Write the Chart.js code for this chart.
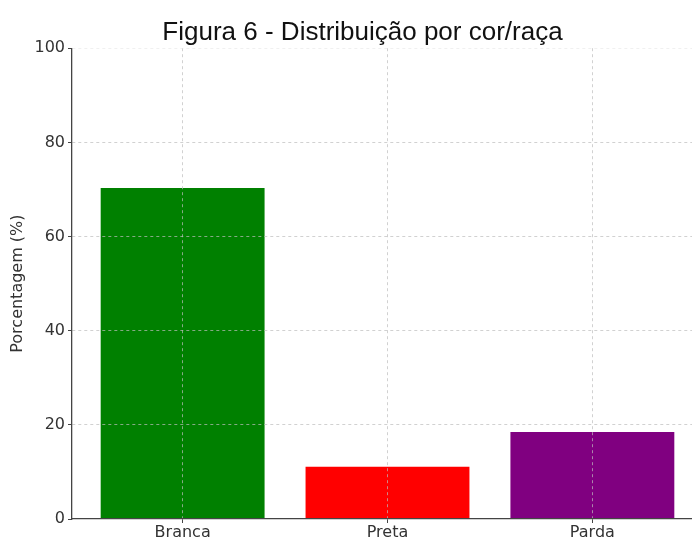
<!DOCTYPE html>
<html lang="pt">
<head>
    <meta charset="UTF-8">
    <title>Figura 6 - Distribuição por cor/raça</title>
    <script src="https://cdn.jsdelivr.net/npm/chart.js"></script>
    <style>
        body {
            margin: 0;
            padding: 0;
            background: #fff;
        }
        .frame {
            width: 692px;
            height: 537px;
            overflow: hidden;
            position: relative;
        }
        .chart-box {
            width: 725px;
            height: 560px;
            position: absolute;
            left: 0;
            top: 0;
        }
    </style>
</head>
<body>
    <div class="frame">
        <div class="chart-box">
            <canvas id="racaChart"></canvas>
        </div>
    </div>

    <script>
        var categorias = ['Branca', 'Preta', 'Parda'];
        var porcentagens = [70.3, 11.1, 18.5];
        var cores = ['#008000', '#ff0000', '#800080'];
        var yTicks = [0, 20, 40, 60, 80, 100];

        var gridColor = 'rgba(190, 190, 190, 0.7)';
        var axisColor = '#444';
        var tickFont = { family: 'DejaVu Sans', size: 16 };

        var pontos = porcentagens.map(function (v, i) {
            return { x: i, y: v };
        });

        var racaChart = new Chart(document.getElementById('racaChart').getContext('2d'), {
            type: 'bar',
            data: {
                datasets: [{
                    label: 'Porcentagem',
                    data: pontos,
                    backgroundColor: cores,
                    borderWidth: 0,
                    barPercentage: 1.0,
                    categoryPercentage: 0.8
                }]
            },
            options: {
                responsive: true,
                maintainAspectRatio: false,
                animation: false,
                layout: { padding: 0 },
                plugins: {
                    legend: { display: false },
                    tooltip: { enabled: false },
                    title: {
                        display: true,
                        text: 'Figura 6 - Distribuição por cor/raça',
                        color: '#111',
                        font: { family: 'Liberation Sans', size: 26, weight: 'normal' },
                        padding: { top: 17, bottom: 0 }
                    }
                },
                scales: {
                    x: {
                        type: 'linear',
                        min: -0.54,
                        max: 2.54,
                        offset: false,
                        afterFit: function (scale) { scale.height = 41; },
                        afterBuildTicks: function (scale) {
                            scale.ticks = categorias.map(function (c, i) { return { value: i }; });
                        },
                        ticks: {
                            font: tickFont,
                            color: '#333',
                            padding: 0,
                            maxRotation: 0,
                            callback: function (value) { return categorias[value]; }
                        },
                        grid: {
                            z: 1,
                            offset: false,
                            color: gridColor,
                            lineWidth: 1,
                            tickColor: axisColor,
                            tickLength: 4
                        },
                        border: { display: true, z: 2, color: axisColor, width: 1.3, dash: [3, 3] }
                    },
                    y: {
                        min: 0,
                        max: 100,
                        afterFit: function (scale) { scale.width = 72; },
                        afterBuildTicks: function (scale) {
                            scale.ticks = yTicks.map(function (v) { return { value: v }; });
                        },
                        title: {
                            display: true,
                            text: 'Porcentagem (%)',
                            color: '#333',
                            font: tickFont,
                            padding: { top: 8, bottom: 0 }
                        },
                        ticks: {
                            font: tickFont,
                            color: '#333',
                            padding: 3
                        },
                        grid: {
                            z: 1,
                            color: function (ctx) {
                                if (!ctx.tick) return gridColor;
                                if (ctx.tick.value === 0) return 'rgba(0,0,0,0)';
                                if (ctx.tick.value === 100) return 'rgba(225,225,225,0.5)';
                                return gridColor;
                            },
                            lineWidth: 1,
                            tickColor: axisColor,
                            tickLength: 4
                        },
                        border: { display: true, z: 2, color: axisColor, width: 1.3, dash: [3, 3] }
                    },
                    // empty right-hand axis, only reserves room so the plot ends past the crop
                    direita: {
                        type: 'linear',
                        position: 'right',
                        afterFit: function (scale) { scale.width = 22; },
                        ticks: { display: false },
                        grid: { display: false, drawTicks: false },
                        border: { display: false }
                    }
                }
            }
        });
    </script>
</body>
</html>
